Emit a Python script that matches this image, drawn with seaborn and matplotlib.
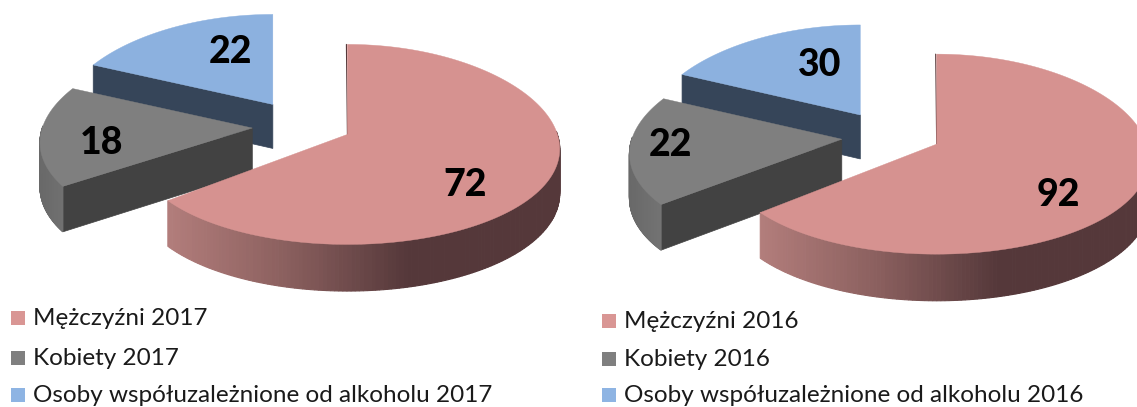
import numpy as np
import matplotlib
matplotlib.use("Agg")
import matplotlib.pyplot as plt
import seaborn as sns

# values
labels_2017 = ["Mężczyźni 2017", "Kobiety 2017", "Osoby współuzależnione od alkoholu 2017"]
values_2017 = [72, 18, 22]
labels_2016 = ["Mężczyźni 2016", "Kobiety 2016", "Osoby współuzależnione od alkoholu 2016"]
values_2016 = [92, 22, 30]

# colours
top_colors = ["#d69290", "#7f7f7f", "#8cb1df"]
legend_colors = ["#d99694", "#7f7f7f", "#8eb4e3"]
cut_colors = ["#553839", "#424242", "#364559"]

sns.set_theme(style="white")
plt.rcParams["font.family"] = ["Lato", "DejaVu Sans"]

# projection of the tilted disc, in pixels
RX, RY = 210, 100
KX, KY = 0.15, 0.10
DEPTH = 44
EXPLODE = 0.24


def project(u, v):
    return RX * u * (1 + KX * v), RY * v * (1 + KY * v)


def dirs(theta):
    return np.sin(theta), -np.cos(theta)


def wall_depth(v):
    return DEPTH * (1 + 0.06 * v)


def draw_pie(ax, values, center, warp):
    total = sum(values)
    edges = np.concatenate([[0], np.cumsum(values)]) / total * 2 * np.pi
    wall_pink = sns.blend_palette(["#b27d7b", "#8a5f5e", "#55383a"], 100)
    wall_grey = sns.blend_palette(["#696969", "#747474"], 40)

    # back to front: blue, grey, pink
    for i in [2, 1, 0]:
        t0, t1 = edges[i], edges[i + 1]
        mid = (t0 + t1) / 2
        mu, mv = dirs(mid)
        ax0 = center[0] + EXPLODE * RX * mu
        ay0 = center[1] + EXPLODE * RY * mv
        theta = np.linspace(t0, t1, 240)
        # foreshortening pushes the small slices round a little
        if i > 0:
            theta = theta + np.radians(np.interp(theta, [edges[1], edges[2], edges[3]], [warp[0], warp[1], 0]))
        u, v = dirs(theta)
        dx, dy = project(u, v)
        xs, ys = ax0 + dx, ay0 + dy
        z = i * -3 + 6

        # straight cut face on the side facing the viewer
        if i > 0:
            cu, cv = dirs(theta[0])
            cx, cy = project(cu, cv)
            dz = wall_depth(cv)
            ax.fill([ax0, ax0 + cx, ax0 + cx, ax0],
                    [ay0, ay0 + cy, ay0 + cy + dz, ay0 + DEPTH],
                    color=cut_colors[i], lw=0.5, zorder=z)

        # outer wall, only where the rim faces the viewer
        if i < 2:
            for j in range(len(theta) - 1):
                if v[j] <= -0.02 and v[j + 1] <= -0.02:
                    continue
                if i == 0:
                    pos = np.clip((xs[j] - xs[-1]) / (0.62 * (xs.max() - xs[-1])), 0, 0.999)
                    col = wall_pink[int(pos * 100)]
                else:
                    pos = np.clip((xs[j] - xs.min()) / (xs.max() - xs.min() + 1), 0, 0.999)
                    col = wall_grey[int(pos * 40)]
                ax.fill([xs[j], xs[j + 1], xs[j + 1], xs[j]],
                        [ys[j], ys[j + 1], ys[j + 1] + wall_depth(v[j + 1]), ys[j] + wall_depth(v[j])],
                        color=col, lw=0.8, zorder=z)

        # top face
        ax.fill(np.r_[ax0, xs], np.r_[ay0, ys], color=top_colors[i], lw=0.3, zorder=z + 1)

        if i == 0:
            ax.plot([xs[0] - 1, ax0], [ys[0], ay0], color=cut_colors[0], lw=0.8, zorder=6.5)


fig = plt.figure(figsize=(11.37, 4.07), dpi=100)
ax = fig.add_axes([0, 0, 1, 1])
ax.set_xlim(0, 1137)
ax.set_ylim(407, 0)
ax.axis("off")

draw_pie(ax, values_2017, (302, 124), (5, 5))
draw_pie(ax, values_2016, (891, 134), (2, 10))

# data labels
label_xy_2017 = [(465, 185), (102, 143), (230, 52)]
label_xy_2016 = [(1058, 195), (670, 145), (820, 65)]
for vals, spots in [(values_2017, label_xy_2017), (values_2016, label_xy_2016)]:
    for val, (x, y) in zip(vals, spots):
        ax.text(x, y, str(val), fontsize=27, fontweight=900, color="black",
                ha="center", va="center", zorder=10)

# legends, last row pulled up just enough to stay inside the picture
legend_rows = [
    (labels_2017, 18, 33, [325, 365, 402]),
    (labels_2016, 609, 624, [328, 366, 402]),
]
for labs, sq_x, txt_x, baselines in legend_rows:
    for t, c, base in zip(labs, legend_colors, baselines):
        ax.scatter(sq_x, base - 7, marker="s", s=88, color=c, linewidths=0, zorder=10)
        ax.text(txt_x, base, t, fontsize=17.5, color="#1a1a1a", ha="left", va="baseline", zorder=10)

fig.savefig("out.png", dpi=100)
